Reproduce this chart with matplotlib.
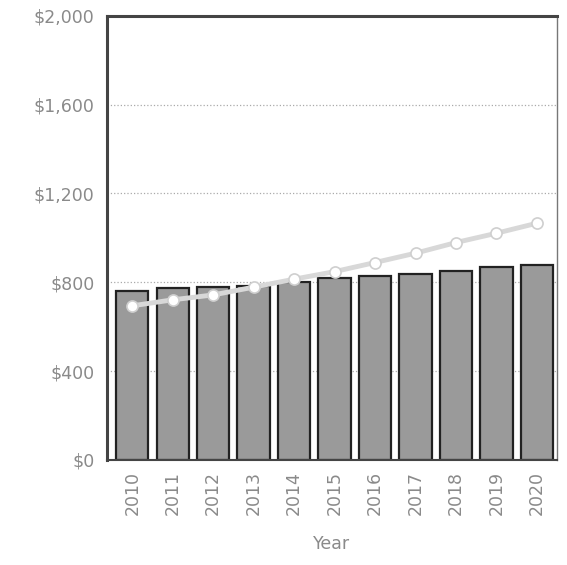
import numpy as np
import matplotlib
matplotlib.use("Agg")
import matplotlib.pyplot as plt
from matplotlib.ticker import FuncFormatter

# ---------- data ----------
years = ["2010", "2011", "2012", "2013", "2014", "2015",
         "2016", "2017", "2018", "2019", "2020"]
bar_values = [762, 772, 778, 782, 803, 818, 829, 838, 850, 868, 878]
line_values = [694, 721, 743, 778, 814, 848, 889, 931, 979, 1021, 1066]
y_ticks = [0, 400, 800, 1200, 1600, 2000]

plt.rcParams["font.family"] = ["DejaVu Sans"]

fig = plt.figure(figsize=(5.67, 5.65), dpi=100)
ax = fig.add_axes([0.189, 0.186, 0.793, 0.786])

x = np.arange(len(years))

# bars
ax.bar(x, bar_values, width=0.8, color="#9a9a9a",
       edgecolor="#222222", linewidth=1.6, zorder=2)

# line
ax.plot(x, line_values, color="#d8d8d8", linewidth=3.5, zorder=3,
        marker="o", markersize=8, markerfacecolor="white",
        markeredgecolor="#cfcfcf", markeredgewidth=1.2)

# axes
ax.set_xlim(-0.62, 10.49)
ax.set_ylim(0, 2000)
ax.set_yticks(y_ticks)
ax.yaxis.set_major_formatter(FuncFormatter(lambda v, p: f"${v:,.0f}"))
ax.set_xticks(x)
ax.set_xticklabels(years, rotation=90)

ax.grid(axis="y", linestyle=":", color="#aaaaaa", linewidth=0.9, zorder=0)
ax.set_axisbelow(True)

ax.tick_params(axis="both", length=0, labelsize=12.5, colors="#8a8a8a")
ax.tick_params(axis="y", pad=9)
ax.tick_params(axis="x", pad=8)

ax.set_xlabel("Year", fontsize=12.5, color="#8a8a8a", labelpad=14)

for side in ("left", "top"):
    ax.spines[side].set_linewidth(2.2)
    ax.spines[side].set_color("#444444")
ax.spines["right"].set_linewidth(1.0)
ax.spines["right"].set_color("#777777")
ax.spines["bottom"].set_linewidth(1.5)
ax.spines["bottom"].set_color("#444444")

fig.savefig("out.png", dpi=100)
